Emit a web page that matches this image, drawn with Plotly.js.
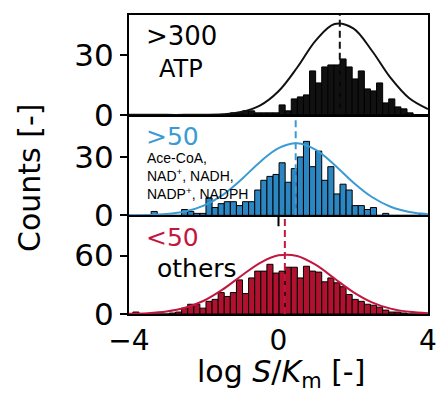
<!DOCTYPE html>
<html>
<head>
<meta charset="utf-8">
<script src="https://cdn.plot.ly/plotly-3.0.1.min.js"></script>
<style>html,body{margin:0;padding:0;background:#fff;}#chart{width:437px;height:393px;}</style>
</head>
<body>
<div id="chart"></div>
<script>
// Histogram bin centres (log S/Km)
const binCenters = [-3.978,-3.815,-3.652,-3.489,-3.326,-3.163,-3.000,-2.837,-2.674,-2.511,
  -2.348,-2.185,-2.022,-1.859,-1.696,-1.533,-1.370,-1.207,-1.044,-0.881,
  -0.718,-0.555,-0.392,-0.229,-0.066,0.097,0.260,0.423,0.586,0.749,
  0.912,1.075,1.238,1.401,1.564,1.727,1.890,2.053,2.216,2.379,
  2.542,2.705,2.868,3.031,3.194,3.357,3.520,3.683,3.846];
// Counts per bin
const countsATP = [0,0,0,0,0,0,0,0,0,0, 0,0,0,0,0,0,0,1,1,2, 2,1,1,1,1,5,2,8,9,10,
  22,16,24,25,25,28,24,18,22,13, 12,16,6,8,4,3,1,0,0];
const countsCof = [0,0,0,0,2,0,0,0,0,3, 2,1,1,9,4,6,7,7,5,7, 7,13,18,20,21,27,17,24,30,38,
  25,33,18,25,11,16,13,5,5,3, 4,0,1,0,0,0,0,0,1];
const countsOther = [0,2,0,0,0,0,0,1,2,6, 10,10,6,13,15,22,18,22,35,21, 37,44,44,51,42,44,48,48,37,49,
  44,43,33,37,32,28,20,15,13,10, 9,7,4,2,2,1,0,0,0];
// Fitted normal curves
const curveX = [-4,-3.5,-3,-2.5,-2,-1.5,-1,-0.5,0,0.5,1,1.5,2,2.5,3,3.5,4];
const curveATP = [0,0,0,0,0.06,0.3,1.4,4.6,11.8,23.7,37.3,45.5,43.3,32.1,18.5,8.3,2.9];
const curveCof = [0.05,0.2,0.7,2.0,5.0,10.4,18.3,27.3,34.5,37,33.6,25.9,16.9,9.4,4.4,1.75,0.6];
const curveOther = [0.25,0.9,2.6,6.4,13.6,25,39,52.3,60.2,59.5,50.3,36.4,22.5,12,5.5,2.2,0.75];
// Means (dashed lines)
const meanATP = 1.64, meanCof = 0.46, meanOther = 0.17;
// Labels
const labelsTop = ['&gt;300', 'ATP'];
const labelsMid = ['&gt;50', 'Ace-CoA,<br>NAD<sup>+</sup>, NADH,<br>NADP<sup>+</sup>, NADPH'];
const labelsBot = ['&lt;50', 'others'];
const yTicksTop = [0, 30], yTicksMid = [0, 30], yTicksBot = [0, 60];
const xTicks = [-4, 0, 4], xTickText = ['\u22124', '0', '4'];

const BLACK = '#111111', BLUE = '#2c86c2', BLUE_L = '#3a9bd3', RED = '#b0112e', RED_L = '#c2183f';
const binW = 0.163;

function bars(y, color, ax) {
  return {type: 'bar', x: binCenters, y: y, width: binW, xaxis: ax[0], yaxis: ax[1],
    marker: {color: color, line: {color: '#000', width: 1}}, hoverinfo: 'skip'};
}
function curve(y, color, ax) {
  return {type: 'scatter', mode: 'lines', x: curveX, y: y, xaxis: ax[0], yaxis: ax[1],
    line: {color: color, width: 2, shape: 'spline', smoothing: 1}, hoverinfo: 'skip'};
}
function vline(m, top, color, ax) {
  return {type: 'scatter', mode: 'lines', x: [m, m], y: [0, top], xaxis: ax[0], yaxis: ax[1],
    line: {color: color, width: 2, dash: '7px,4px'}, hoverinfo: 'skip'};
}
const T = ['x3', 'y3'], M = ['x2', 'y2'], B = ['x', 'y'];
const data = [
  bars(countsATP, BLACK, T), curve(curveATP, BLACK, T), vline(meanATP, 50, BLACK, T),
  bars(countsCof, BLUE, M), curve(curveCof, BLUE_L, M), vline(meanCof, 51, BLUE_L, M),
  bars(countsOther, RED, B), curve(curveOther, RED_L, B), vline(meanOther, 100, RED_L, B),
  {type: 'scatter', mode: 'lines', x: [0, 0], y: [90, 100], xaxis: 'x', yaxis: 'y',
   line: {color: '#000', width: 2}, hoverinfo: 'skip'}
];

const xBase = {range: [-4, 4], showline: true, mirror: true, linecolor: '#000', linewidth: 2,
  showgrid: false, zeroline: false, ticks: '', fixedrange: true};
const yBase = {showline: true, mirror: true, linecolor: '#000', linewidth: 2, showgrid: false,
  zeroline: false, ticks: 'outside', ticklen: 7, tickwidth: 2, tickcolor: '#000',
  tickfont: {size: 31, color: '#000'}};

function px2x(px) { return (px - 129) / 299; }
function px2y(py) { return (314 - py) / 299; }
function ann(text, px, py, opts) {
  return Object.assign({text: text, xref: 'paper', yref: 'paper', x: px2x(px), y: px2y(py),
    xanchor: 'left', yanchor: 'middle', showarrow: false, align: 'left',
    font: {size: 25, color: '#000', family: 'DejaVu Sans'}}, opts || {});
}

const layout = {
  width: 437, height: 393,
  margin: {l: 129, r: 9, t: 15, b: 79},
  paper_bgcolor: '#fff', plot_bgcolor: '#fff',
  showlegend: false, bargap: 0,
  font: {family: 'DejaVu Sans', color: '#000'},
  xaxis: Object.assign({}, xBase, {anchor: 'y', tickvals: xTicks, ticktext: xTickText,
    tickfont: {size: 28, color: '#000'}}),
  xaxis2: Object.assign({}, xBase, {anchor: 'y2', matches: 'x', showticklabels: false}),
  xaxis3: Object.assign({}, xBase, {anchor: 'y3', matches: 'x', showticklabels: false}),
  yaxis: Object.assign({}, yBase, {domain: [0, 0.326], range: [0, 100], tickvals: yTicksBot, anchor: 'x'}),
  yaxis2: Object.assign({}, yBase, {domain: [0.33, 0.662], range: [0, 51], tickvals: yTicksMid, anchor: 'x2'}),
  yaxis3: Object.assign({}, yBase, {domain: [0.666, 1], range: [0, 50], tickvals: yTicksTop, anchor: 'x3'}),
  annotations: [
    ann(labelsTop[0], 144, 36, {font: {size: 26, color: '#000', family: 'DejaVu Sans'}}),
    ann(labelsTop[1], 157, 69, {font: {size: 24, color: '#000', family: 'DejaVu Sans'}}),
    ann(labelsMid[0], 144, 136, {font: {size: 25, color: BLUE_L, family: 'DejaVu Sans'}}),
    ann(labelsMid[1], 145, 176, {font: {size: 14, color: '#000', family: 'Liberation Sans'}}),
    ann(labelsBot[0], 144, 238, {font: {size: 25, color: RED_L, family: 'DejaVu Sans'}}),
    ann(labelsBot[1], 155, 268),
    {text: 'Counts [-]', xref: 'paper', yref: 'paper', x: px2x(29), y: px2y(178), textangle: -90,
     xanchor: 'center', yanchor: 'middle', showarrow: false, font: {size: 30, color: '#000'}},
    {text: 'log <i>S</i>/<i>K</i><sub>m</sub> [-]', xref: 'paper', yref: 'paper', x: px2x(281),
     y: px2y(373), xanchor: 'center', yanchor: 'middle', showarrow: false, font: {size: 30, color: '#000'}}
  ]
};
Plotly.newPlot('chart', data, layout, {staticPlot: true, displayModeBar: false});
</script>
</body>
</html>
